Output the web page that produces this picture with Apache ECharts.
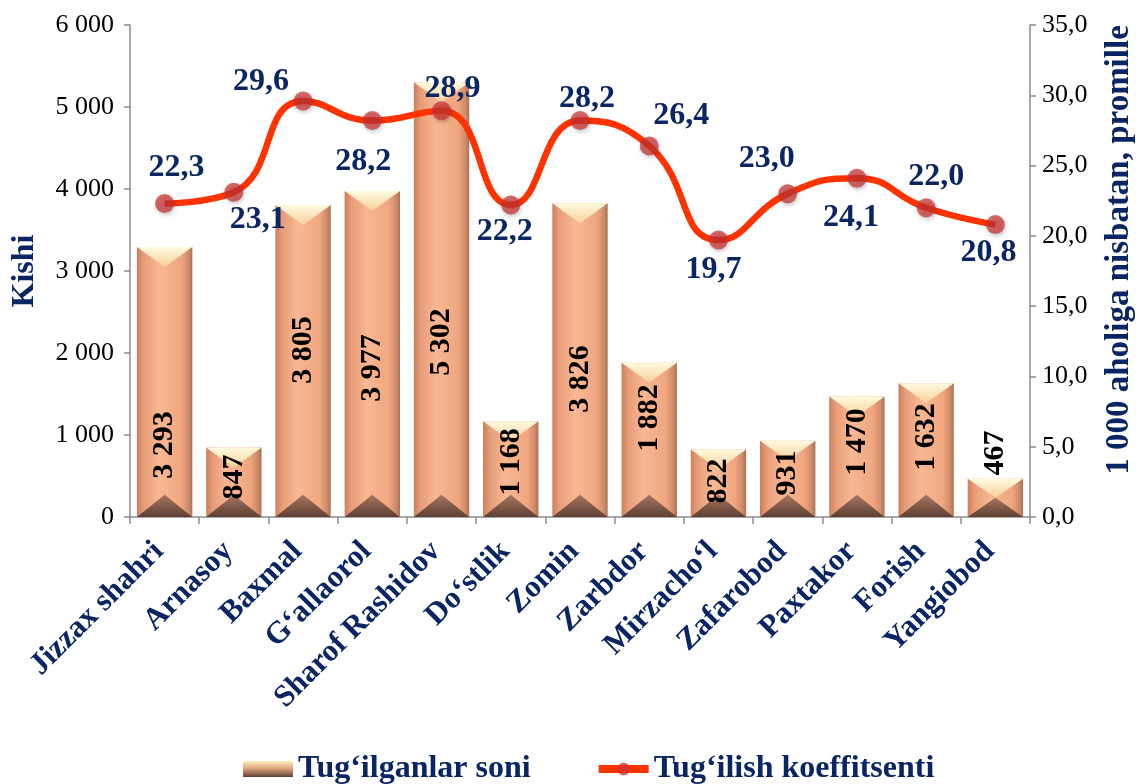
<!DOCTYPE html>
<html>
<head>
<meta charset="utf-8">
<script src="https://cdn.jsdelivr.net/npm/echarts@6/dist/echarts.min.js"></script>
<style>
html,body{margin:0;padding:0;background:#fff;}
#chart{width:1144px;height:784px;}
</style>
</head>
<body>
<div id="chart"></div>
<script>
// ---- data ----
const categories = ['Jizzax shahri','Arnasoy','Baxmal','G‘allaorol','Sharof Rashidov','Do‘stlik','Zomin','Zarbdor','Mirzacho‘l','Zafarobod','Paxtakor','Forish','Yangiobod'];
const births = [3293, 847, 3805, 3977, 5302, 1168, 3826, 1882, 822, 931, 1470, 1632, 467];
const rates = [22.3, 23.1, 29.6, 28.2, 28.9, 22.2, 28.2, 26.4, 19.7, 23.0, 24.1, 22.0, 20.8];
const seriesNames = ['Tug‘ilganlar soni', 'Tug‘ilish koeffitsenti'];
const axisNames = ['Kishi', '1 000 aholiga nisbatan, promille'];

// ---- styling (label placement) ----
const barLabelAnchor = [878, 488, 2037, 1817, 2134, 670, 1683, 1207, 439, 537, 915, 976, 780];
const lineLabelOffsets = [[12,-36],[24,27],[-42,-19],[-9,41],[11,-22],[-6,27],[7,-22],[32,-30],[-5,30],[-21,-35],[-6,40],[10,-31],[-7,28]];

const NAVY = '#0a2563';
const FONT = '"Liberation Serif","Times New Roman",serif';

function fmtInt(v){ return String(Math.round(v)).replace(/\B(?=(\d{3})+(?!\d))/g, ' '); }
function fmtDec(v){ return v.toFixed(1).replace('.', ','); }

const G = echarts.graphic.LinearGradient;
const bodyGrad = () => new G(0,0,1,0,[
  {offset:0,color:'#c7805f'},{offset:0.12,color:'#e89c77'},{offset:0.4,color:'#f8b893'},
  {offset:0.8,color:'#f0a67f'},{offset:0.93,color:'#d08b68'},{offset:1,color:'#a87258'}]);
const capGrad = () => new G(0,0,0,1,[{offset:0,color:'#fffbe0'},{offset:1,color:'#f7d09c'}]);
const footGrad = () => new G(0,0,0,1,[{offset:0,color:'#a67660'},{offset:1,color:'#5e4033'}]);

function renderBar(params, api){
  const i = api.value(0), v = api.value(1);
  const top = api.coord([i, v]);
  const base = api.coord([i, 0]);
  const bw = api.size([1, 0])[0] * 0.8;
  const x0 = top[0] - bw / 2;
  const h = base[1] - top[1];
  const capH = Math.min(bw * 0.36, h / 2);
  const footH = Math.min(bw * 0.4, h / 2);
  const lab = api.coord([i, barLabelAnchor[i]]);
  return {
    type: 'group',
    children: [
      {type:'rect', shape:{x:x0, y:top[1], width:bw, height:h}, style:{fill: bodyGrad()}},
      {type:'polygon', shape:{points:[[x0,top[1]],[x0+bw,top[1]],[top[0],top[1]+capH]]}, style:{fill: capGrad()}},
      {type:'polygon', shape:{points:[[x0,base[1]],[x0+bw,base[1]],[top[0],base[1]-footH]]}, style:{fill: footGrad()}},
      {type:'text', x: lab[0], y: lab[1], rotation: Math.PI/2,
        style:{text: fmtInt(v), fill:'#000', font:'bold 30px ' + FONT, align:'center', verticalAlign:'middle'}}
    ]
  };
}

const chart = echarts.init(document.getElementById('chart'));
chart.setOption({
  animation: false,
  backgroundColor: '#fff',
  grid: {left: 130, right: 110, top: 25, bottom: 267, containLabel: false},
  legend: {
    top: 748, left: 238, itemGap: 64, itemWidth: 50, itemHeight: 16,
    textStyle: {fontFamily: FONT, fontWeight: 'bold', fontSize: 32, color: NAVY},
    data: [{name: seriesNames[0], icon: 'rect'}, {name: seriesNames[1], lineStyle: {width: 8}}]
  },
  xAxis: {
    type: 'category', data: categories, boundaryGap: true,
    axisLine: {lineStyle: {color: '#8c8c8c', width: 1.5}},
    axisTick: {show: true, length: 7, lineStyle: {color: '#8c8c8c', width: 1.5}},
    axisLabel: {rotate: 45, margin: 24, padding: [0, 8, 0, 0], interval: 0, fontFamily: FONT, fontWeight: 'bold', fontSize: 31, color: NAVY}
  },
  yAxis: [{
    type: 'value', min: 0, max: 6000, interval: 1000,
    name: axisNames[0], nameLocation: 'middle', nameRotate: 90, nameGap: 89,
    nameTextStyle: {fontFamily: FONT, fontWeight: 'bold', fontSize: 32, color: NAVY},
    axisLine: {show: true, lineStyle: {color: '#8c8c8c', width: 1.5}},
    axisTick: {show: true, length: 6, lineStyle: {color: '#8c8c8c', width: 1.5}},
    splitLine: {show: false},
    axisLabel: {formatter: fmtInt, fontFamily: FONT, fontSize: 26, color: '#000', margin: 16}
  }, {
    type: 'value', min: 0, max: 35, interval: 5, position: 'right',
    name: axisNames[1], nameLocation: 'middle', nameRotate: 90, nameGap: 73,
    nameTextStyle: {fontFamily: FONT, fontWeight: 'bold', fontSize: 33, color: NAVY, padding: [0, 0, 0, 42]},
    axisLine: {show: true, lineStyle: {color: '#8c8c8c', width: 1.5}},
    axisTick: {show: true, length: 6, lineStyle: {color: '#8c8c8c', width: 1.5}},
    splitLine: {show: false},
    axisLabel: {formatter: fmtDec, fontFamily: FONT, fontSize: 26, color: '#000', margin: 12}
  }],
  series: [{
    name: seriesNames[0], type: 'custom', yAxisIndex: 0,
    renderItem: renderBar,
    itemStyle: {color: new G(0,0,0,1,[{offset:0,color:'#fff0c0'},{offset:0.45,color:'#e0a880'},{offset:1,color:'#5e4033'}])},
    encode: {x: 0, y: 1},
    data: births.map((v, i) => [i, v]),
    z: 2
  }, {
    name: seriesNames[1], type: 'line', yAxisIndex: 1, smooth: 0.5,
    data: rates.map((v, i) => ({
      value: v,
      label: {offset: lineLabelOffsets[i]}
    })),
    lineStyle: {color: '#ff3300', width: 6.5},
    symbol: 'circle', symbolSize: 19,
    itemStyle: {color: 'rgba(200,50,50,0.72)', shadowColor: 'rgba(0,0,0,0.3)', shadowBlur: 4, shadowOffsetX: 1, shadowOffsetY: 2},
    label: {show: true, position: 'inside', formatter: p => fmtDec(p.value),
      fontFamily: FONT, fontWeight: 'bold', fontSize: 32, color: NAVY},
    z: 5
  }]
});
</script>
</body>
</html>
